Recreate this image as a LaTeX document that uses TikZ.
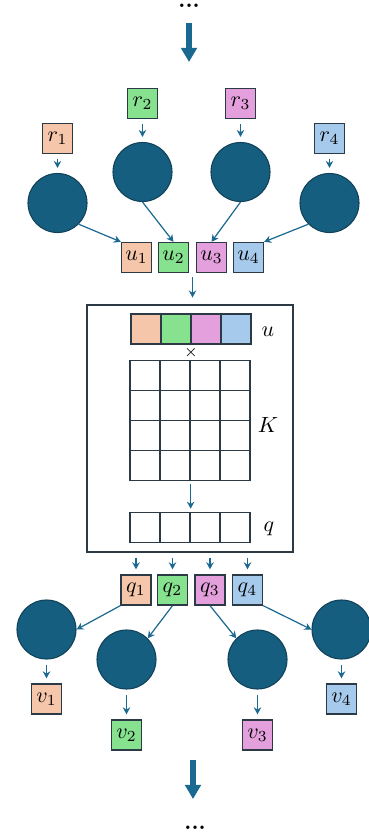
\documentclass[tikz,border=0pt]{standalone}
\usepackage{amsmath,amssymb}
\usepackage{tikz}
\usetikzlibrary{arrows.meta}
\definecolor{peach}{HTML}{F5C6AA}
\definecolor{mint}{HTML}{86E28F}
\definecolor{orchid}{HTML}{E4A0DC}
\definecolor{sky}{HTML}{A6CAEC}
\definecolor{ballcol}{HTML}{165E80}
\definecolor{ballline}{HTML}{12425A}
\definecolor{edgecol}{HTML}{2B3A44}
\definecolor{arrcol}{HTML}{1B6890}

\begin{document}
\begin{tikzpicture}[x=0.016cm, y=-0.016cm,
        box/.style={draw=edgecol, line width=0.6pt, minimum size=0.48cm, inner sep=0pt},
        ball/.style={circle, draw=ballline, line width=0.5pt, fill=ballcol, minimum size=0.944cm, inner sep=0pt},
        arr/.style={draw=arrcol, line width=0.55pt, -{Stealth[length=3.2pt, width=3.4pt]}},
        short/.style={shorten <=0.08cm, shorten >=0.08cm},
        bigarr/.style={draw=arrcol, line width=2.3pt, -{Triangle[length=6.4pt, width=7pt]}}]
        \useasboundingbox (0, 0) rectangle (368, 838);
        \node [inner sep=0pt] (dotsT) at (189, 6) {\textbf{...}};
        \coordinate (outT) at (189, 62);
        \draw [bigarr, shorten <=0.272cm] (dotsT.center) -- (outT);
        \node [box, fill=peach]  (r1) at (57.5, 138.5)  {$r_1$};
        \node [box, fill=mint]   (r2) at (142.5, 103.5) {$r_2$};
        \node [box, fill=orchid] (r3) at (240.5, 103.5) {$r_3$};
        \node [box, fill=sky]    (r4) at (329.5, 138.5) {$r_4$};
        \node [ball] (a1) at (57.5, 203)  {};
        \node [ball] (a2) at (142.5, 172) {};
        \node [ball] (a3) at (240.5, 172) {};
        \node [ball] (a4) at (329.5, 203) {};
        \node [box, fill=peach]  (u1) at (136.5, 257.5) {$u_1$};
        \node [box, fill=mint]   (u2) at (173.5, 257.5) {$u_2$};
        \node [box, fill=orchid] (u3) at (211.5, 257.5) {$u_3$};
        \node [box, fill=sky]    (u4) at (248.5, 257.5) {$u_4$};
        \foreach \i in {1,...,4}
            \draw [arr, short] (r\i) -- (a\i);
        \draw [arr] (a1.south east) -- (u1.north west);
        \draw [arr] (a2.south) -- (u2.north);
        \draw [arr] (a3.south) -- (u3.north);
        \draw [arr] (a4.south west) -- (u4.north east);
        % the block u x K -> q
        \node [draw=edgecol, line width=0.6pt, minimum width=3.296cm, minimum height=3.952cm] (blk) at (190, 428.5) {};
        \coordinate (uin) at (192.5, 277);
        \draw [arr, shorten >=0.11cm] (uin) -- (uin |- blk.north);
        \foreach \c [count=\j from 0] in {peach,mint,orchid,sky}
            \node [box, fill=\c] (U\j) at (146 + 30*\j, 329) {};
        \node (Lu) at (268, 332) {$u$};
        \node (times) at (191, 353) {$\scriptstyle\times$};
        \foreach \i in {0,...,3}
            \foreach \j in {0,...,3}
                \node [box] (K\i\j) at (145 + 30*\j, 375.5 + 30*\i) {};
        \node (LK) at (268, 425) {$K$};
        \foreach \j in {0,...,3}
            \node [box] (Q\j) at (145 + 30*\j, 527.5) {};
        \node (Lq) at (269, 529) {$q$};
        \draw [arr, shorten <=0.05cm, shorten >=0.05cm] (K31.south east) -- (Q1.north east);
        % outputs
        \node [box, fill=peach]  (q1) at (136, 590)   {$q_1$};
        \node [box, fill=mint]   (q2) at (172.5, 590) {$q_2$};
        \node [box, fill=orchid] (q3) at (210, 590)   {$q_3$};
        \node [box, fill=sky]    (q4) at (247.5, 590) {$q_4$};
        \foreach \i in {1,...,4}
            \draw [arr, short] (blk.south -| q\i) -- (q\i);
        \node [ball] (b1) at (46.5, 629.5)  {};
        \node [ball] (b2) at (126.5, 659.5) {};
        \node [ball] (b3) at (257.5, 659.5) {};
        \node [ball] (b4) at (341.5, 629.5) {};
        \draw [arr] (q1.south west) -- (b1.east);
        \draw [arr] (q2.south) -- (b2.north east);
        \draw [arr] (q3.south) -- (b3.north west);
        \draw [arr] (q4.south east) -- (b4.west);
        \node [box, fill=peach]  (v1) at (46.5, 699)  {$v_1$};
        \node [box, fill=mint]   (v2) at (126.5, 735) {$v_2$};
        \node [box, fill=orchid] (v3) at (257.5, 735) {$v_3$};
        \node [box, fill=sky]    (v4) at (341.5, 699) {$v_4$};
        \foreach \i in {1,...,4}
            \draw [arr, short] (b\i) -- (v\i);
        \coordinate (inB) at (193, 760);
        \node [inner sep=0pt] (dotsB) at (195, 828) {\textbf{...}};
        \draw [bigarr, shorten >=0.464cm] (inB) -- (inB |- dotsB.center);
\end{tikzpicture}
\end{document}
